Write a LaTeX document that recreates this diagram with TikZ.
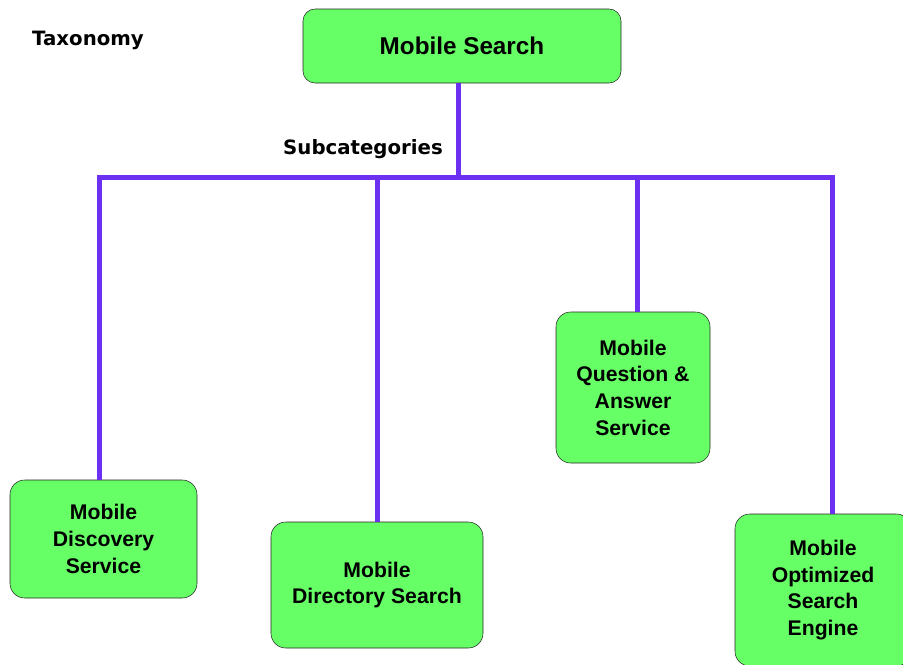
\documentclass[tikz,border=0pt]{standalone}
\usepackage{fontspec}
\setmainfont{Liberation Sans}
\newfontfamily\headfont{DejaVu Sans}
\definecolor{boxgreen}{RGB}{102,255,102}
\definecolor{branchviolet}{RGB}{108,48,240}
\tikzset{
  leaf/.style={draw=black!85, fill=boxgreen, rounded corners=11pt, align=center,
    inner sep=0pt, font=\bfseries\fontsize{15.9}{20}\selectfont},
  branch/.style={draw=branchviolet, line width=3.75pt, line join=miter},
  caption/.style={font=\headfont\bfseries\fontsize{14.8}{18}\selectfont}
}
\begin{document}
\begin{tikzpicture}[x=0.75pt, y=-0.75pt]
\useasboundingbox (0,0) rectangle (903,664);
% root and the subcategories
\node[leaf, rounded corners=9pt, minimum width=238.5pt, minimum height=55.5pt,
  font=\bfseries\fontsize{18.2}{22}\selectfont] (search) at (462,46) {Mobile Search};
\node[leaf, minimum width=140.25pt, minimum height=88.5pt] (discovery) at (103.5,539) {Mobile\\Discovery\\Service};
\node[leaf, minimum width=159pt, minimum height=94.5pt] (directory) at (377,585) {Mobile\\Directory Search};
\node[leaf, minimum width=115.5pt, minimum height=113.25pt] (qa) at (633,387.5) {Mobile\\Question \&\\Answer\\Service};
\node[leaf, minimum width=132pt, minimum height=114pt] (optimized) at (823,590) {Mobile\\Optimized\\Search\\Engine};
% labels
\node[caption] (taxonomy) at (88,40) {Taxonomy};
\node[caption] (subcat) at (363,149) {Subcategories};
% tree lines
\coordinate (hub) at (458,177);
\coordinate (b1) at (99,177);
\coordinate (b2) at (377,177);
\coordinate (b3) at (637,177);
\coordinate (b4) at (832,177);
\draw[branch] (search.south -| hub) -- (hub);
\draw[branch] (discovery.north -| b1) -- (b1) -- (b4) -- (optimized.north -| b4);
\draw[branch] (b2) -- (directory.north -| b2);
\draw[branch] (b3) -- (qa.north -| b3);
\end{tikzpicture}
\end{document}
